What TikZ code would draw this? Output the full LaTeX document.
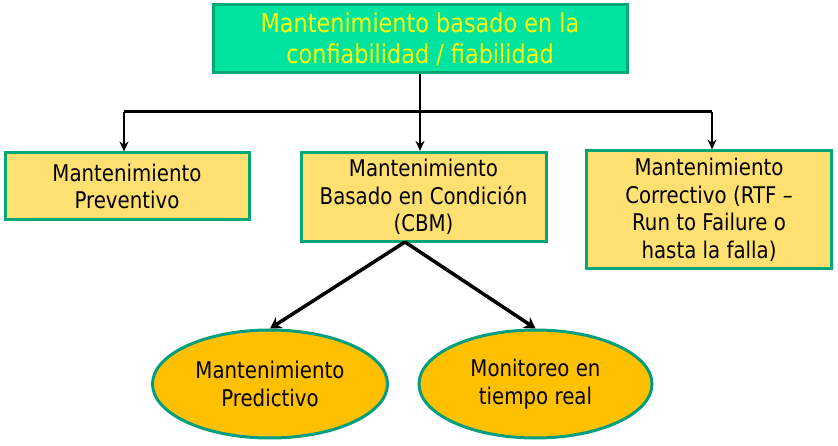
\documentclass[tikz,border=0pt]{standalone}
\usepackage{fontspec}
\setmainfont{DejaVu Sans}[FakeStretch=0.86]
\usetikzlibrary{shapes.geometric,arrows.meta}
\definecolor{topfill}{RGB}{0,228,160}
\definecolor{topline}{RGB}{0,168,120}
\definecolor{boxfill}{RGB}{255,224,112}
\definecolor{boxline}{RGB}{0,166,118}
\definecolor{ellfill}{RGB}{255,192,0}
\definecolor{ellline}{RGB}{0,158,126}
\definecolor{topfont}{RGB}{255,255,0}
\begin{document}
\begin{tikzpicture}[x=1pt,y=-1pt,
  topbox/.style={draw=topline,fill=topfill,line width=3pt,inner sep=0pt,
    text=topfont,align=center,font=\fontsize{26}{31}\selectfont},
  catbox/.style={draw=boxline,fill=boxfill,line width=3pt,inner sep=0pt,
    align=center,font=\fontsize{23}{27.5}\selectfont},
  ellnode/.style={ellipse,draw=ellline,fill=ellfill,line width=3pt,inner sep=0pt,
    align=center,font=\fontsize{23}{28}\selectfont},
  conn/.style={line width=2.5pt,black},
  arr/.style={conn,-{Stealth[length=10pt,width=9pt]}},
  arrb/.style={line width=3.5pt,black,-{Stealth[length=11pt,width=13pt]}}]
\useasboundingbox (0,0) rectangle (838,446);
\node[topbox,minimum width=414pt,minimum height=68pt] (top) at (420,39)
  {Mantenimiento basado en la\\confiabilidad / fiabilidad};
\node[catbox,minimum width=244pt,minimum height=67pt] (prev) at (127,186.5)
  {Mantenimiento\\Preventivo};
\node[catbox,minimum width=245pt,minimum height=89pt] (cbm) at (423.5,197)
  {Mantenimiento\\Basado en Condición\\(CBM)};
\node[catbox,minimum width=245pt,minimum height=118pt] (corr) at (709,210)
  {Mantenimiento\\Correctivo (RTF –\\Run to Failure o\\hasta la falla)};
\node[ellnode,minimum width=235pt,minimum height=108pt] (pred) at (270,384)
  {Mantenimiento\\Predictivo};
\node[ellnode,minimum width=233pt,minimum height=108pt] (mon) at (535.5,384)
  {Monitoreo en\\tiempo real};
\coordinate (busL) at (124,111.7);
\coordinate (busR) at (712,111.7);
\coordinate (cbmout) at (405,242);
\draw[conn] (busL) -- (busR);
\draw[arr] (top.south) -- (top.south |- cbm.north);
\draw[arr] (busL) -- (busL |- prev.north);
\draw[arr] (busR) -- (busR |- corr.north);
\draw[arrb] (cbmout) -- (pred.north);
\draw[arrb] (cbmout) -- (mon.north);
\end{tikzpicture}
\end{document}
